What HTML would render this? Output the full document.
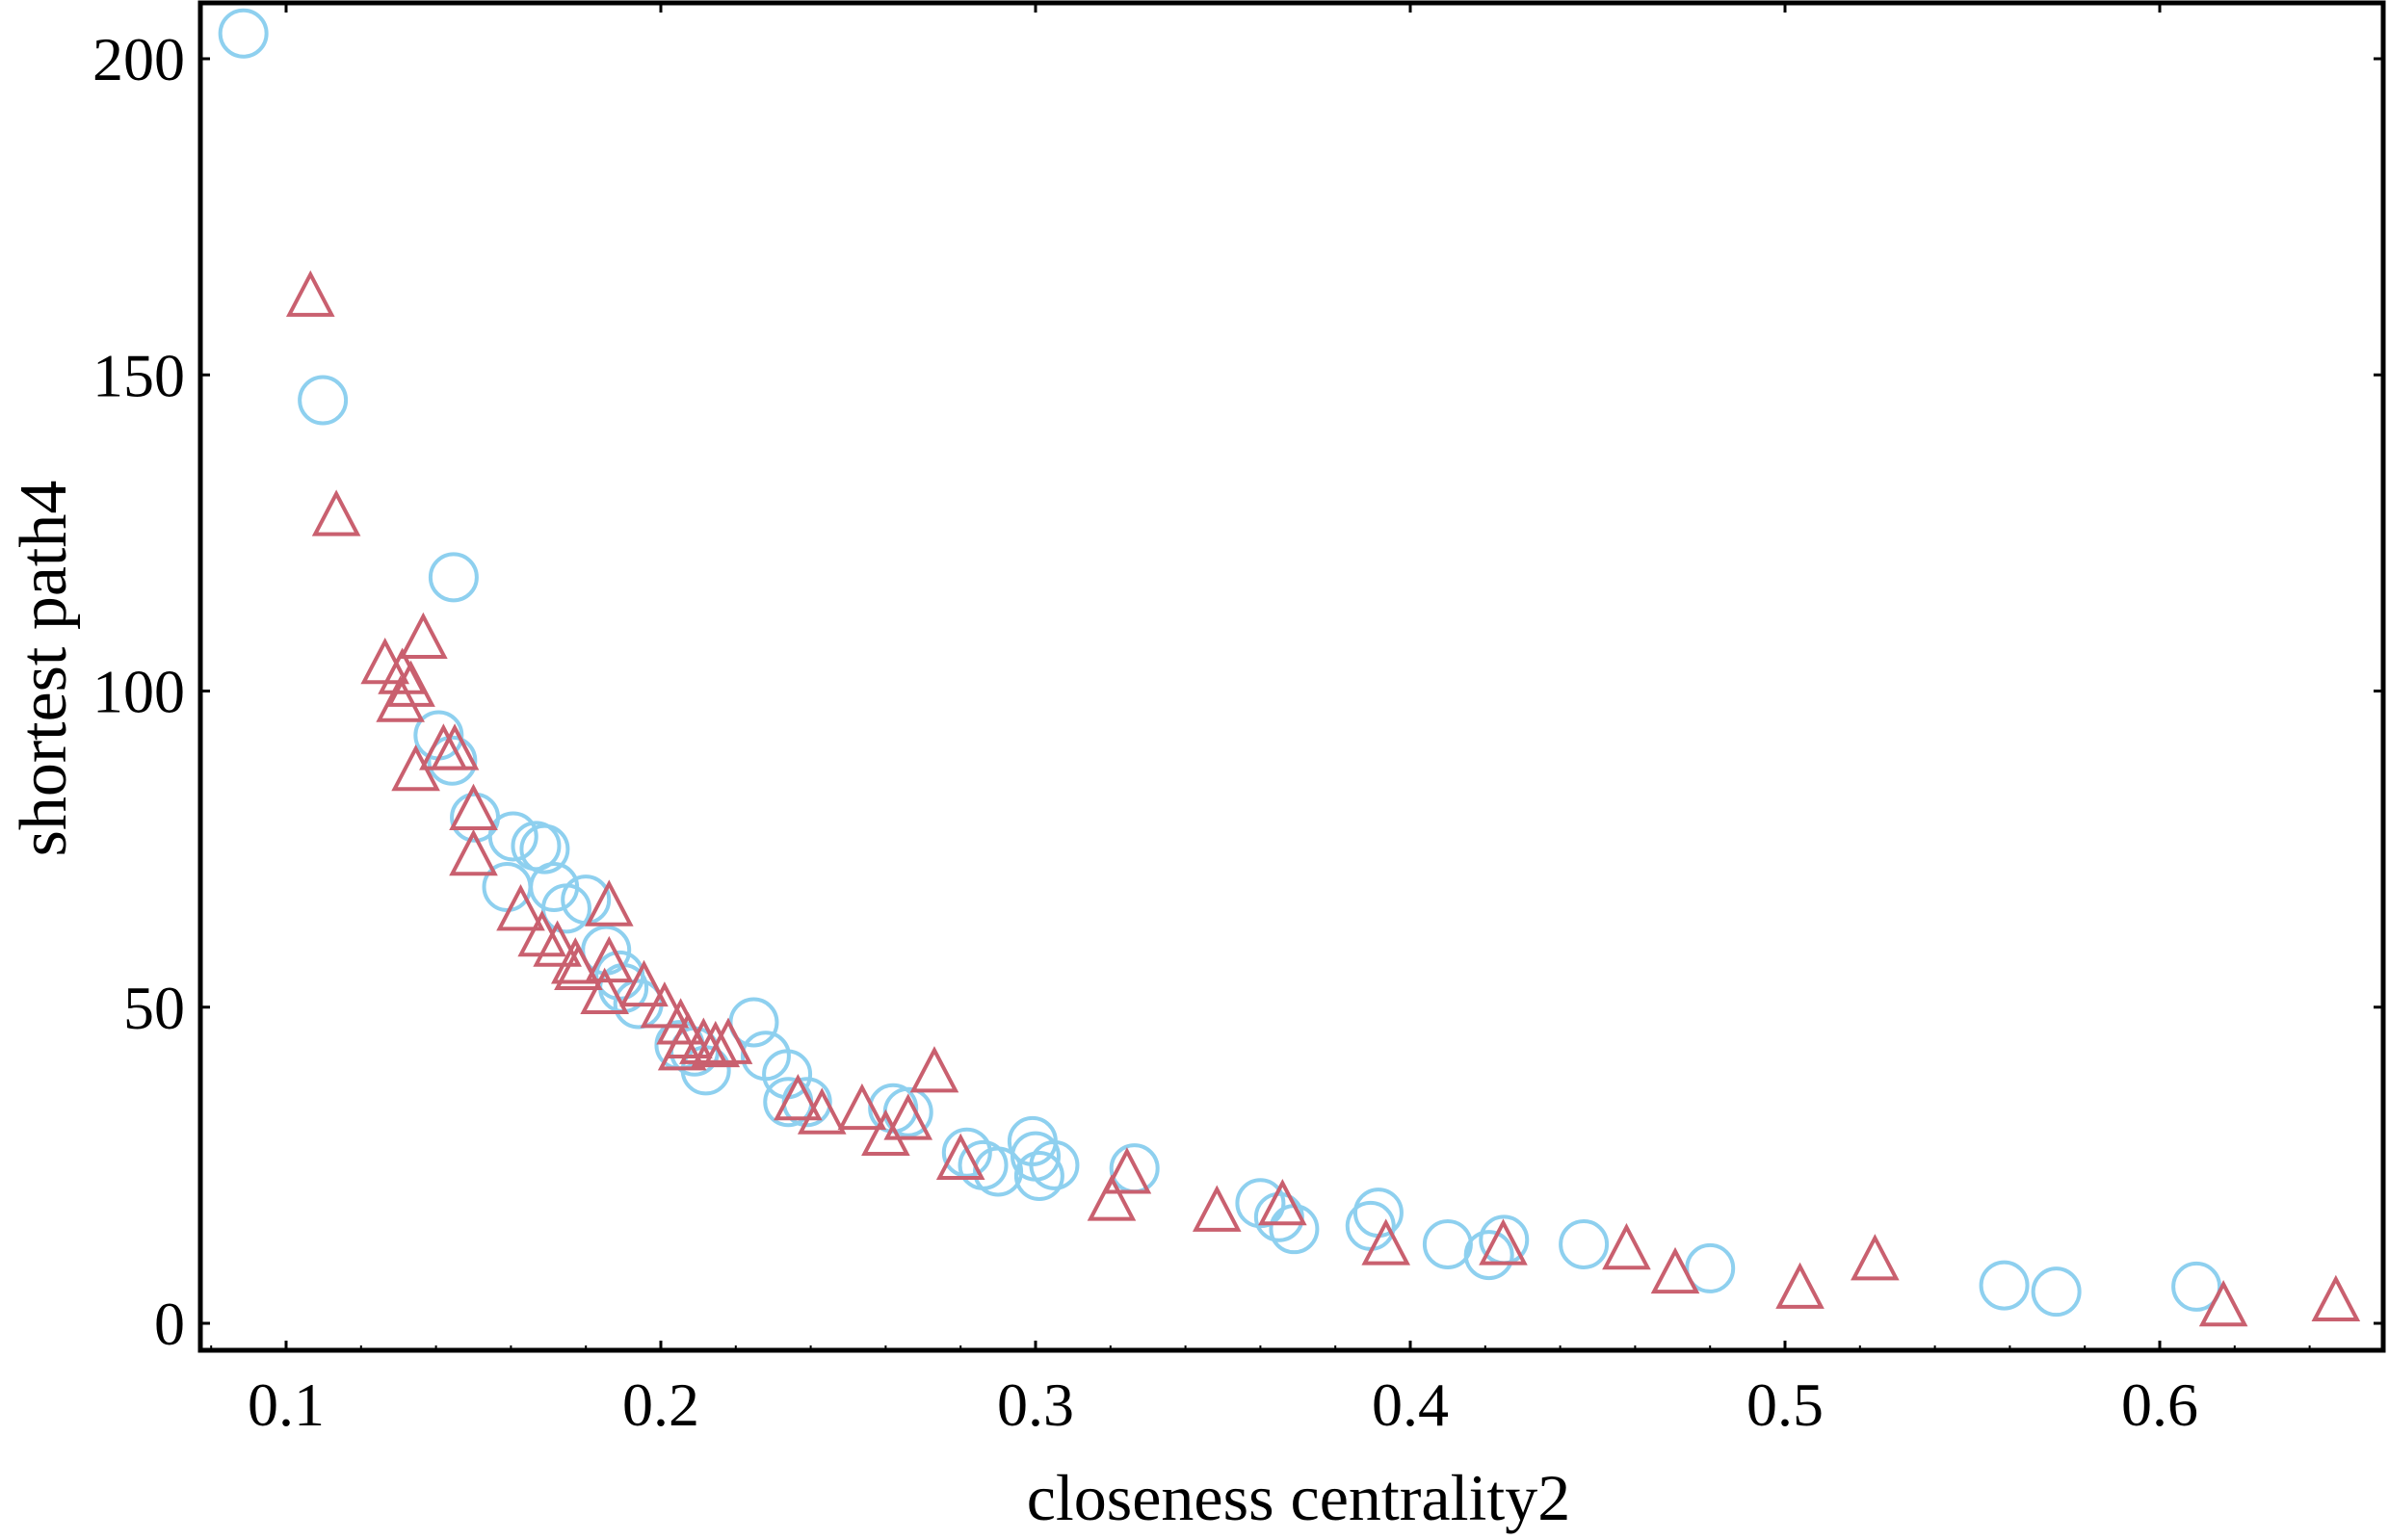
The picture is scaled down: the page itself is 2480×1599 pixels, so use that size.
<!DOCTYPE html>
<html><head><meta charset="utf-8">
<style>
html,body{margin:0;padding:0;background:#fff;}
svg{display:block;}
text{font-family:"Liberation Serif",serif;fill:#000;}
</style></head>
<body>
<svg id="chart" width="2480" height="1599" viewBox="0 0 2480 1599" xmlns="http://www.w3.org/2000/svg">
<rect x="0" y="0" width="2480" height="1599" fill="#fff"/>
<g id="marks"></g>
<rect x="208" y="3" width="2266" height="1399" fill="none" stroke="#000" stroke-width="5"/>
<g id="axes"></g>
<text x="1348" y="1578" font-size="68" text-anchor="middle">closeness centrality2</text>
<text x="0" y="0" font-size="70" text-anchor="middle" transform="translate(68,694) rotate(-90)">shortest path4</text>
</svg>
<script>
const circleX=[0.0886,0.1098,0.1447,0.1407,0.1443,0.1504,0.1606,0.159,0.1667,0.169,0.1715,0.1748,0.18,0.1854,0.189,0.190,0.194,0.205,0.209,0.212,0.2248,0.228,0.2337,0.234,0.239,0.262,0.266,0.2817,0.286,0.290,0.2992,0.300,0.301,0.305,0.3264,0.360,0.365,0.369,0.3894,0.3915,0.410,0.421,0.425,0.4463,0.480,0.5585,0.5724,0.6098];
const circleY=[204,146,118,93,89,80,77,69,75.5,75,69,65.6,67,59,55,53,50.5,44,43,40,47.6,42.3,39.4,35,35,34,33.4,27,25,24,28.8,26.4,23.3,25,24.5,19,16.8,14.9,15.4,17.5,12.5,10.8,13.2,12.5,8.7,6,5,5.8];
const triX=[0.1065,0.1134,0.1264,0.131,0.1333,0.1305,0.1366,0.1346,0.142,0.145,0.150,0.150,0.1626,0.1683,0.1724,0.1772,0.178,0.1862,0.1862,0.185,0.1955,0.201,0.2053,0.2073,0.2057,0.2114,0.2146,0.218,0.2366,0.243,0.2537,0.26,0.266,0.273,0.280,0.3203,0.3244,0.3484,0.3659,0.3935,0.4248,0.4577,0.4707,0.504,0.524,0.617,0.647];
const triY=[162.7,128,104.6,103,101,98.6,108.6,87.7,91,91,81.5,74.3,65.6,61.5,59.9,57.2,56.2,66.3,57.4,52.4,53.6,50.2,47.6,45.4,43.5,44.5,44,44.5,35.6,33.4,34.1,30,32.5,40,26.2,19.7,24,18,19,12.7,12.7,12,8.2,5.8,10.3,3,3.8];
const xTicks=[0.1,0.2,0.3,0.4,0.5,0.6];
const xTickLabels=["0.1","0.2","0.3","0.4","0.5","0.6"];
const yTicks=[0,50,100,150,200];
const yTickLabels=["0","50","100","150","200"];

const NS="http://www.w3.org/2000/svg";
function xs(v){return 297+(v-0.1)*3890;}
function ys(v){return 1374-v*6.565;}
const marks=document.getElementById('marks');
const axes=document.getElementById('axes');
function mk(tag,attrs,parent){const e=document.createElementNS(NS,tag);for(const k in attrs)e.setAttribute(k,attrs[k]);parent.appendChild(e);return e;}

for(let i=0;i<circleX.length;i++){
  const c=mk('circle',{cx:xs(circleX[i]),cy:ys(circleY[i]),r:24,fill:'none',stroke:'#8ed0ef','stroke-width':4},marks);
  
  
}
for(let i=0;i<triX.length;i++){
  const cx=xs(triX[i]),cy=ys(triY[i]);
  const p=mk('polygon',{points:`${cx},${cy-21} ${cx-22},${cy+21} ${cx+22},${cy+21}`,fill:'none',stroke:'#c9606f','stroke-width':4},marks);
  
  
}
for(let i=0;i<xTicks.length;i++){
  const x=xs(xTicks[i]);
  mk('line',{x1:x,y1:1402,x2:x,y2:1392,stroke:'#000','stroke-width':3},axes);
  mk('line',{x1:x,y1:3,x2:x,y2:13,stroke:'#000','stroke-width':3},axes);
  const t=mk('text',{x:x,y:1480,'font-size':64,'text-anchor':'middle'},axes);
  t.textContent=xTickLabels[i];
  
  
}
for(let v=0.08;v<0.66;v+=0.02){
  const x=xs(v);
  if(x>210&&x<2472) mk('line',{x1:x,y1:1402,x2:x,y2:1397,stroke:'#000','stroke-width':2},axes);
}
for(let i=0;i<yTicks.length;i++){
  const y=ys(yTicks[i]);
  mk('line',{x1:208,y1:y,x2:218,y2:y,stroke:'#000','stroke-width':3},axes);
  mk('line',{x1:2474,y1:y,x2:2464,y2:y,stroke:'#000','stroke-width':3},axes);
  const t=mk('text',{x:192,y:y+22,'font-size':64,'text-anchor':'end'},axes);
  t.textContent=yTickLabels[i];
  
  
}
</script>
</body></html>
